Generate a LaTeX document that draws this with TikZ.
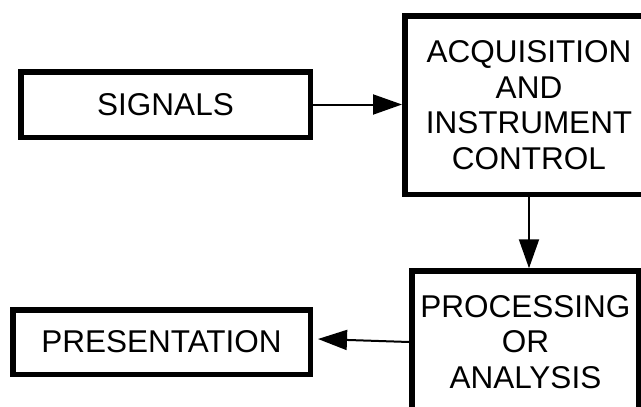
\documentclass[tikz,border=0pt]{standalone}
\usepackage{fontspec}
\setmainfont{Liberation Sans}
\usetikzlibrary{arrows.meta}
\begin{document}
\begin{tikzpicture}[x=1pt,y=-1pt,
  blk/.style={draw=black, line width=5.5pt, inner sep=0pt, align=center,
    font=\fontsize{31.5}{35.5}\selectfont},
  conn/.style={line width=2pt, -{Triangle[length=29pt,width=20pt]}}]
\useasboundingbox (0,0) rectangle (641,407);
\clip (0,0) rectangle (641,407);
\node[blk, minimum width=289.5pt, minimum height=65.5pt] (sig) at (165.5,104.5) {SIGNALS};
\node[blk, minimum width=248.5pt, minimum height=178.5pt] (acq) at (529,105)
  {ACQUISITION\\AND\\INSTRUMENT\\CONTROL};
\node[blk, minimum width=227.25pt, minimum height=142pt] (proc) at (525.4,342)
  {PROCESSING\\OR\\ANALYSIS};
\node[blk, minimum width=297.5pt, minimum height=64.5pt] (pres) at (161.5,342) {PRESENTATION};
\coordinate (ptip) at ([xshift=5pt,yshift=3pt]pres.east);
\draw[conn] (sig.east) -- (acq.west |- sig.east);
\draw[conn] (acq.south) -- (acq.south |- proc.north);
\draw[conn] (proc.west) -- (ptip);
\end{tikzpicture}
\end{document}
